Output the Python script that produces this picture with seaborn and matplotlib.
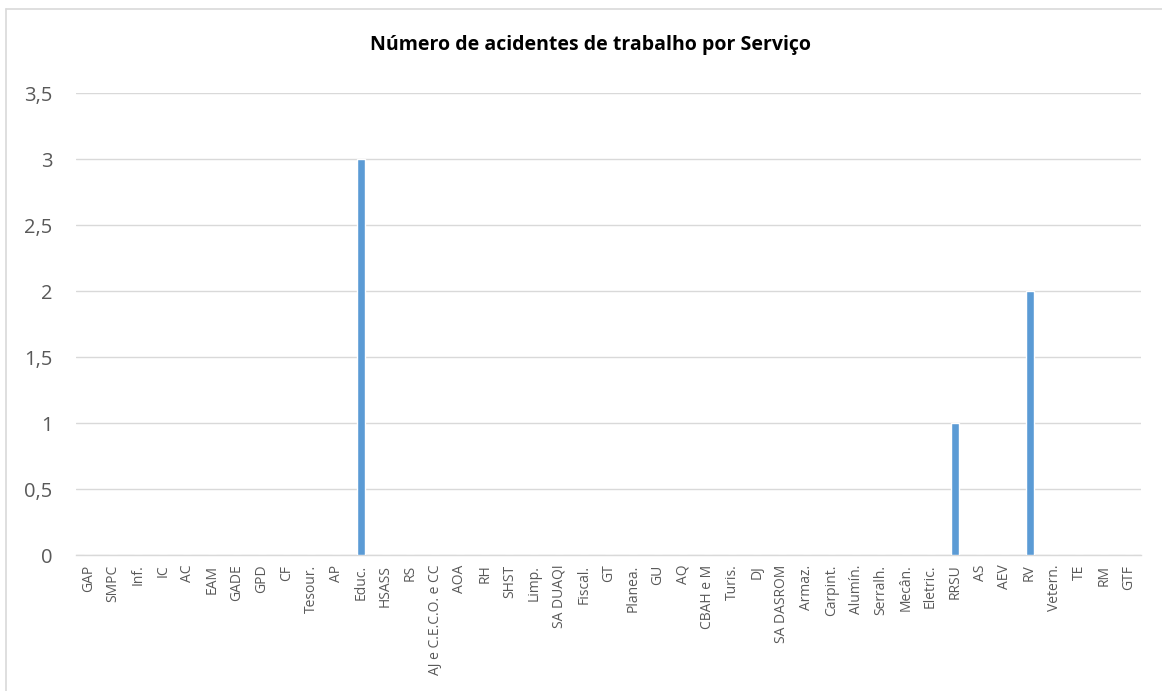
import matplotlib
matplotlib.use("Agg")
import matplotlib.pyplot as plt
import seaborn as sns
import pandas as pd
from matplotlib.lines import Line2D

categories = ["GAP", "SMPC", "Inf.", "IC", "AC", "EAM", "GADE", "GPD", "CF", "Tesour.", "AP",
              "Educ.", "HSASS", "RS", "AJ e C.E.C.O. e CC", "AOA", "RH", "SHST", "Limp.",
              "SA DUAQI", "Fiscal.", "GT", "Planea.", "GU", "AQ", "CBAH e M", "Turis.", "DJ",
              "SA DASROM", "Armaz.", "Carpint.", "Alumín.", "Serralh.", "Mecân.", "Eletric.",
              "RRSU", "AS", "AEV", "RV", "Vetern.", "TE", "RM", "GTF"]
values = [0, 0, 0, 0, 0, 0, 0, 0, 0, 0, 0,
          3, 0, 0, 0, 0, 0, 0, 0,
          0, 0, 0, 0, 0, 0, 0, 0, 0,
          0, 0, 0, 0, 0, 0, 0,
          1, 0, 0, 2, 0, 0, 0, 0]
yticks = [0, 0.5, 1, 1.5, 2, 2.5, 3, 3.5]
ytick_labels = ["0", "0,5", "1", "1,5", "2", "2,5", "3", "3,5"]
title = "Número de acidentes de trabalho por Serviço"

df = pd.DataFrame({"cat": categories, "val": values})

sns.set_style("white")
plt.rcParams['font.family'] = ['Open Sans', 'DejaVu Sans']

fig = plt.figure(figsize=(11.62, 6.91), dpi=100)
ax = fig.add_axes([0.0654, 0.1968, 0.9166, 0.6686])

sns.barplot(data=df, x="cat", y="val", color="#5B9BD5", width=0.32,
            saturation=1, ax=ax, zorder=3)

ax.set_ylim(0, 3.5)
ax.set_xlim(-0.5, len(categories) - 0.5)
ax.set_yticks(yticks)
ax.set_yticklabels(ytick_labels, fontsize=14.5, color="#595959")
ax.set_xticks(range(len(categories)))
ax.set_xticklabels(categories, rotation=90, fontsize=10, color="#595959")
ax.tick_params(axis="both", length=0)
ax.tick_params(axis="x", pad=7)
ax.tick_params(axis="y", pad=17)
ax.set_xlabel("")
ax.set_ylabel("")
ax.yaxis.grid(True, color="#D9D9D9", linewidth=1, zorder=0)
for s in ["top", "right", "left"]:
    ax.spines[s].set_visible(False)
ax.spines["bottom"].set_color("#D9D9D9")
ax.spines["bottom"].set_linewidth(1)

fig.text(591 / 1162, 1 - 45 / 691, title, ha="center", va="center", fontsize=14,
         fontweight="bold", color="black")

# chart-area border (only left and top edges visible in the reference crop)
fig.add_artist(Line2D([6 / 1162, 6 / 1162], [0, 1 - 9 / 691], transform=fig.transFigure,
                      color="#D9D9D9", linewidth=1.2))
fig.add_artist(Line2D([6 / 1162, 1], [1 - 9 / 691, 1 - 9 / 691], transform=fig.transFigure,
                      color="#D9D9D9", linewidth=1.2))

fig.savefig("out.png", dpi=100)
